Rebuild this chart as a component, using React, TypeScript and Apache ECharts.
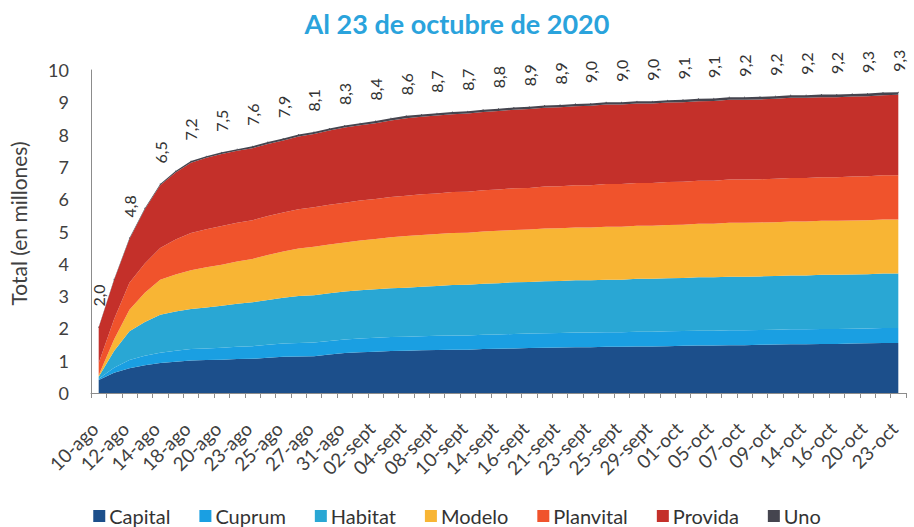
import React, { useEffect, useRef } from "react";
import * as echarts from "echarts";

const categories = [
  "10-ago", "11-ago", "12-ago", "13-ago", "14-ago", "17-ago", "18-ago", "19-ago", "20-ago", "21-ago",
  "23-ago", "24-ago", "25-ago", "26-ago", "27-ago", "28-ago", "31-ago", "01-sept", "02-sept", "03-sept",
  "04-sept", "07-sept", "08-sept", "09-sept", "10-sept", "11-sept", "14-sept", "15-sept", "16-sept", "17-sept",
  "21-sept", "22-sept", "23-sept", "24-sept", "25-sept", "28-sept", "29-sept", "30-sept", "01-oct", "02-oct",
  "05-oct", "06-oct", "07-oct", "08-oct", "09-oct", "13-oct", "14-oct", "15-oct", "16-oct", "19-oct",
  "20-oct", "22-oct", "23-oct",
];

const capital = [
  0.40, 0.63, 0.77, 0.86, 0.93, 0.97, 1.01, 1.02, 1.03, 1.05, 1.06, 1.09, 1.12, 1.13, 1.14, 1.19, 1.24, 1.26,
  1.28, 1.30, 1.31, 1.32, 1.33, 1.34, 1.34, 1.36, 1.37, 1.38, 1.39, 1.40, 1.41, 1.42, 1.42, 1.43, 1.43, 1.44,
  1.44, 1.45, 1.46, 1.47, 1.47, 1.48, 1.48, 1.49, 1.50, 1.51, 1.51, 1.52, 1.52, 1.53, 1.54, 1.55, 1.55,
];
const cuprum = [
  0.04, 0.15, 0.25, 0.29, 0.32, 0.34, 0.35, 0.36, 0.37, 0.38, 0.39, 0.40, 0.41, 0.42, 0.42, 0.42, 0.42, 0.43,
  0.43, 0.43, 0.43, 0.44, 0.44, 0.44, 0.44, 0.44, 0.44, 0.45, 0.45, 0.45, 0.45, 0.45, 0.45, 0.45, 0.45, 0.46,
  0.46, 0.46, 0.46, 0.46, 0.46, 0.46, 0.46, 0.46, 0.46, 0.46, 0.46, 0.46, 0.46, 0.46, 0.46, 0.46, 0.46,
];
const habitat = [
  0.06, 0.52, 0.89, 1.05, 1.17, 1.21, 1.24, 1.27, 1.30, 1.33, 1.36, 1.39, 1.42, 1.45, 1.47, 1.48, 1.48, 1.49,
  1.50, 1.51, 1.52, 1.53, 1.54, 1.56, 1.57, 1.58, 1.59, 1.60, 1.60, 1.61, 1.61, 1.62, 1.62, 1.63, 1.63, 1.64,
  1.64, 1.64, 1.64, 1.65, 1.65, 1.66, 1.66, 1.66, 1.66, 1.67, 1.67, 1.68, 1.68, 1.68, 1.68, 1.69, 1.69,
];
const modelo = [
  0.05, 0.36, 0.67, 0.90, 1.09, 1.15, 1.20, 1.24, 1.27, 1.31, 1.34, 1.39, 1.43, 1.47, 1.50, 1.51, 1.52, 1.54,
  1.56, 1.58, 1.60, 1.60, 1.61, 1.61, 1.61, 1.62, 1.62, 1.62, 1.62, 1.63, 1.63, 1.63, 1.63, 1.64, 1.64, 1.64,
  1.64, 1.65, 1.65, 1.66, 1.66, 1.67, 1.67, 1.67, 1.67, 1.67, 1.67, 1.67, 1.67, 1.67, 1.67, 1.67, 1.67,
];
const planvital = [
  0.38, 0.62, 0.83, 0.91, 0.98, 1.08, 1.15, 1.18, 1.20, 1.20, 1.20, 1.21, 1.21, 1.22, 1.22, 1.23, 1.23, 1.24,
  1.24, 1.25, 1.25, 1.26, 1.26, 1.27, 1.27, 1.28, 1.28, 1.29, 1.29, 1.30, 1.30, 1.31, 1.31, 1.32, 1.32, 1.32,
  1.32, 1.33, 1.33, 1.33, 1.33, 1.34, 1.34, 1.34, 1.34, 1.35, 1.35, 1.35, 1.35, 1.36, 1.36, 1.37, 1.37,
];
const provida = [
  1.10, 1.22, 1.36, 1.68, 1.94, 2.08, 2.18, 2.21, 2.23, 2.23, 2.23, 2.23, 2.23, 2.25, 2.27, 2.30, 2.33, 2.33,
  2.34, 2.37, 2.40, 2.40, 2.41, 2.41, 2.42, 2.42, 2.43, 2.43, 2.44, 2.44, 2.45, 2.45, 2.46, 2.46, 2.46, 2.46,
  2.46, 2.46, 2.46, 2.46, 2.47, 2.47, 2.47, 2.47, 2.48, 2.48, 2.48, 2.48, 2.48, 2.48, 2.48, 2.48, 2.49,
];
const uno = [
  0.01, 0.02, 0.03, 0.03, 0.04, 0.04, 0.05, 0.05, 0.05, 0.05, 0.06, 0.06, 0.06, 0.06, 0.06, 0.06, 0.06, 0.06,
  0.07, 0.07, 0.07, 0.07, 0.07, 0.07, 0.07, 0.07, 0.07, 0.07, 0.07, 0.07, 0.07, 0.07, 0.07, 0.07, 0.07, 0.07,
  0.07, 0.07, 0.08, 0.08, 0.08, 0.08, 0.08, 0.08, 0.08, 0.08, 0.08, 0.08, 0.08, 0.08, 0.08, 0.08, 0.08,
];

// Total labels shown above every other date (10-ago, 12-ago, ... 23-oct)
const totalLabels = [
  2.0, 4.8, 6.5, 7.2, 7.5, 7.6, 7.9, 8.1, 8.3, 8.4, 8.6, 8.7, 8.7, 8.8, 8.9, 8.9, 9.0, 9.0, 9.0, 9.1, 9.1, 9.2,
  9.2, 9.2, 9.2, 9.3, 9.3,
];

const seriesNames = ["Capital", "Cuprum", "Habitat", "Modelo", "Planvital", "Provida", "Uno"];
const seriesData = [capital, cuprum, habitat, modelo, planvital, provida, uno];
const seriesColors = ["#1c4f8b", "#1a9fe2", "#29a7d4", "#f8b534", "#f0532c", "#c4302a", "#45454f"];

const FONT = "Lato, 'Open Sans', sans-serif";

export default function App() {
  const ref = useRef<HTMLDivElement>(null);

  useEffect(() => {
    if (!ref.current) return;
    const chart = echarts.init(ref.current, undefined, { renderer: "svg" });

    const series = seriesNames.map((name, si) => {
      const isTop = si === seriesNames.length - 1;
      const data = seriesData[si].map((v, i) =>
        isTop ? { value: v, label: { show: i % 2 === 0 } } : v
      );
      return {
        name,
        type: "line",
        stack: "total",
        symbol: isTop ? "circle" : "none",
        symbolSize: isTop ? 1 : 0,
        showSymbol: isTop,
        showAllSymbol: true,
        smooth: false,
        lineStyle: { width: 0 },
        areaStyle: { color: seriesColors[si], opacity: 1 },
        itemStyle: { color: seriesColors[si] },
        emphasis: { disabled: true },
        data,
        label: isTop
          ? {
              position: "top",
              distance: 20,
              rotate: 90,
              align: "left",
              verticalAlign: "middle",
              offset: [-3, 0],
              fontSize: 16,
              fontFamily: FONT,
              color: "#333333",
              formatter: (p: any) => {
                const v = totalLabels[Math.floor(p.dataIndex / 2)];
                return v === undefined ? "" : v.toFixed(1).replace(".", ",");
              },
            }
          : { show: false },
        labelLayout: { moveOverlap: false, hideOverlap: false },
        z: 2,
      };
    });

    chart.setOption({
      animation: false,
      backgroundColor: "#ffffff",
      title: {
        text: "Al 23 de octubre de 2020",
        left: "center",
        top: 5,
        textStyle: {
          color: "#2aa3dc",
          fontSize: 27,
          fontWeight: "bold",
          fontFamily: FONT,
        },
      },
      legend: {
        bottom: -4,
        left: "center",
        icon: "rect",
        itemWidth: 12,
        itemHeight: 12,
        itemGap: 29,
        textStyle: { fontSize: 20, color: "#333333", fontFamily: FONT, padding: [0, 0, 0, -1] },
        data: seriesNames,
      },
      grid: { left: 86, right: 8, top: 70, bottom: 134, containLabel: false },
      xAxis: {
        type: "category",
        boundaryGap: true,
        data: categories,
        axisLine: { show: true, lineStyle: { color: "#8c8c8c", width: 1 } },
        axisTick: { show: true, interval: 0, length: 5, lineStyle: { color: "#8c8c8c" } },
        axisLabel: {
          interval: 1,
          rotate: 45,
          fontSize: 19,
          color: "#404040",
          fontFamily: FONT,
          margin: 28,
          padding: [0, 6, 6, 0],
        },
        splitLine: { show: false },
      },
      yAxis: {
        type: "value",
        min: 0,
        max: 10,
        interval: 1,
        name: "Total (en millones)",
        nameLocation: "middle",
        nameGap: 62,
        nameTextStyle: { fontSize: 21, color: "#404040", fontFamily: FONT, padding: [0, 0, 0, 16] },
        axisLine: { show: true, lineStyle: { color: "#8c8c8c", width: 1 } },
        axisTick: { show: false },
        axisLabel: { fontSize: 18, color: "#404040", fontFamily: FONT, margin: 22 },
        splitLine: { show: false },
      },
      series,
    });

    return () => chart.dispose();
  }, []);

  return (
    <div
      ref={ref}
      style={{ position: "fixed", left: 0, top: 0, width: 914, height: 527 }}
    />
  );
}
